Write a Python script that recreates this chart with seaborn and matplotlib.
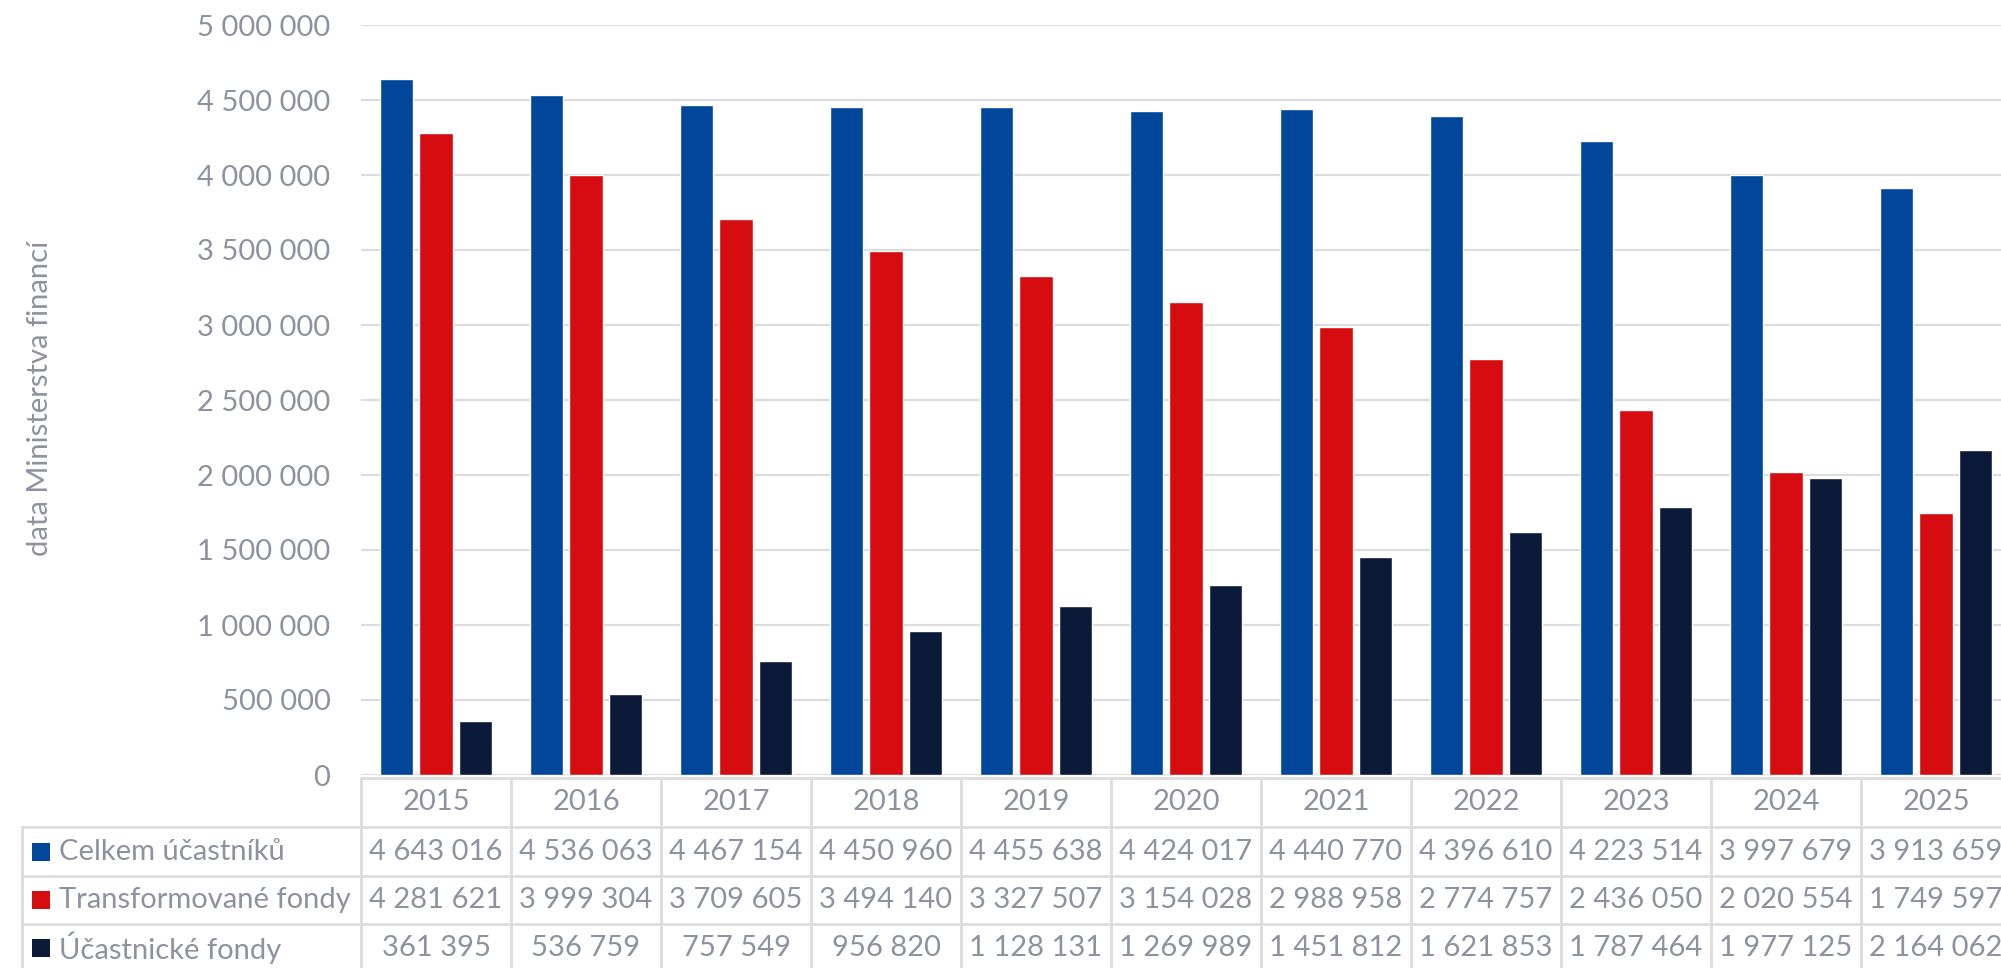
import matplotlib
matplotlib.use("Agg")
import matplotlib.pyplot as plt
from matplotlib.patches import Rectangle
from matplotlib import transforms
import seaborn as sns
import pandas as pd

# --- data -------------------------------------------------------------------
years = ["2015", "2016", "2017", "2018", "2019", "2020",
         "2021", "2022", "2023", "2024", "2025"]
series_names = ["Celkem účastníků", "Transformované fondy", "Účastnické fondy"]
celkem = [4643016, 4536063, 4467154, 4450960, 4455638, 4424017,
          4440770, 4396610, 4223514, 3997679, 3913659]
transformovane = [4281621, 3999304, 3709605, 3494140, 3327507, 3154028,
                  2988958, 2774757, 2436050, 2020554, 1749597]
ucastnicke = [361395, 536759, 757549, 956820, 1128131, 1269989,
              1451812, 1621853, 1787464, 1977125, 2164062]
y_ticks = [0, 500000, 1000000, 1500000, 2000000, 2500000,
           3000000, 3500000, 4000000, 4500000, 5000000]
y_label = "data Ministerstva financí"

colors = ["#00469B", "#D70C11", "#0C1A3A"]
text_color = "#8C929E"
line_color = "#DCDCDC"

values = [celkem, transformovane, ucastnicke]
df = pd.DataFrame({
    "rok": years * 3,
    "řada": [name for name in series_names for _ in years],
    "počet": celkem + transformovane + ucastnicke,
})

sns.set_theme(style="white")
plt.rcParams["font.family"] = ["Lato", "DejaVu Sans"]
FS = 21


def fmt(v):
    return f"{v:,}".replace(",", " ")


W, H = 2001, 968
fig = plt.figure(figsize=(W / 100, H / 100), dpi=100)

# plot area in pixel terms
left_px, top_px, bottom_px = 361, 25, 775
col_px = 150
ax = fig.add_axes([left_px / W, 1 - bottom_px / H,
                   col_px * len(years) / W, (bottom_px - top_px) / H])

sns.barplot(data=df, x="rok", y="počet", hue="řada", order=years,
            hue_order=series_names, palette=colors, width=0.79, gap=0.14,
            saturation=1, legend=False, ax=ax, err_kws={"linewidth": 0})

ax.set_xlim(-0.5, len(years) - 0.5)
ax.set_ylim(0, 5000000)
ax.set_yticks(y_ticks)
ax.set_yticklabels([fmt(t) for t in y_ticks], color=text_color, fontsize=FS)
ax.tick_params(axis="y", length=0, pad=22)
ax.set_xticks([])
ax.set_xlabel("")
ax.set_ylabel("")
ax.yaxis.grid(True, color=line_color, linewidth=1.6)
ax.set_axisbelow(True)
for s in ax.spines.values():
    s.set_visible(False)

fig.text(40 / W, 1 - 398 / H, y_label, rotation=90, ha="center", va="center",
         color=text_color, fontsize=FS)

# --- data table below the plot ----------------------------------------------
blend = transforms.blended_transform_factory(ax.transData, ax.transAxes)
ah = bottom_px - top_px


def ay(px):
    return (bottom_px - px) / ah


row_lines = [778, 827, 876, 924, 975]
table_left = (22 - left_px) / (col_px * len(years))

# horizontal lines
ax.plot([0, 1.2], [ay(row_lines[0])] * 2, transform=ax.transAxes,
        color=line_color, lw=2, clip_on=False)
for yl in row_lines[1:]:
    ax.plot([table_left, 1.2], [ay(yl)] * 2, transform=ax.transAxes,
            color=line_color, lw=2, clip_on=False)
# vertical lines
ax.plot([table_left] * 2, [ay(row_lines[1]), ay(row_lines[-1])],
        transform=ax.transAxes, color=line_color, lw=2, clip_on=False)
for i in range(len(years) + 1):
    ax.plot([i - 0.5] * 2, [ay(row_lines[0]), ay(row_lines[-1])],
            transform=blend, color=line_color, lw=2, clip_on=False)

# year headers
for i, yr in enumerate(years):
    ax.text(i, ay(802), yr, transform=blend, ha="center", va="center",
            color=text_color, fontsize=FS, clip_on=False)

row_centers = [852, 900, 948]
for r, (name, vals, c) in enumerate(zip(series_names, values, colors)):
    yc = row_centers[r]
    fig.patches.append(Rectangle((32 / W, 1 - (yc + 9) / H), 18 / W, 18 / H,
                                 transform=fig.transFigure, facecolor=c,
                                 edgecolor="none"))
    fig.text(59 / W, 1 - yc / H, name, ha="left", va="center",
             color=text_color, fontsize=FS)
    for i, v in enumerate(vals):
        ax.text(i, ay(yc), fmt(v), transform=blend, ha="center", va="center",
                color=text_color, fontsize=FS, clip_on=False)

fig.savefig("out.png", dpi=100, facecolor="white")
